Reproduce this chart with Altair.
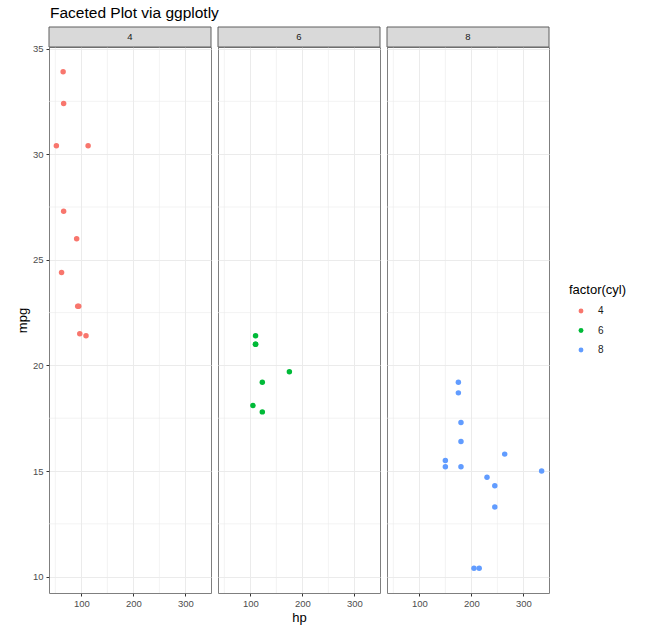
import altair as alt
import pandas as pd

# mtcars: hp, mpg, cyl
hp = [110, 110, 93, 110, 175, 105, 245, 62, 95, 123, 123, 180, 180, 180, 205, 215,
      230, 66, 52, 65, 97, 150, 150, 245, 175, 66, 91, 113, 264, 175, 335, 109]
mpg = [21.0, 21.0, 22.8, 21.4, 18.7, 18.1, 14.3, 24.4, 22.8, 19.2, 17.8, 16.4, 17.3,
       15.2, 10.4, 10.4, 14.7, 32.4, 30.4, 33.9, 21.5, 15.5, 15.2, 13.3, 19.2, 27.3,
       26.0, 30.4, 15.8, 19.7, 15.0, 21.4]
cyl = [6, 6, 4, 6, 8, 6, 8, 4, 4, 6, 6, 8, 8, 8, 8, 8, 8, 4, 4, 4, 4, 8, 8, 8, 8, 4,
       4, 4, 8, 6, 8, 4]

cyl_levels = ["4", "6", "8"]
cyl_colors = ["#F8766D", "#00BA38", "#619CFF"]
x_ticks = [100, 200, 300]
x_minor = [50, 150, 250]
y_ticks = [10, 15, 20, 25, 30, 35]
y_minor = [12.5, 17.5, 22.5, 27.5, 32.5]
x_domain = [37.85, 349.15]
y_domain = [9.225, 35.075]

df = pd.DataFrame({"hp": hp, "mpg": mpg, "cyl": [str(c) for c in cyl]})

W, H = 162, 546
FONT = "Liberation Sans"
xs = alt.Scale(domain=x_domain, nice=False, zero=False)
ys = alt.Scale(domain=y_domain, nice=False, zero=False)


def panel(level, first, mid):
    xaxis = alt.Axis(values=x_ticks, title="hp" if mid else None, grid=True,
                     gridColor="#ebebeb", gridWidth=1, domain=False,
                     tickColor="#333333", tickSize=3, labelPadding=2,
                     labelColor="#4d4d4d", labelFontSize=9.5, labelFont=FONT,
                     titleFont=FONT, titleFontSize=13, titleFontWeight="normal",
                     titleColor="#000000", titlePadding=4)
    if first:
        yaxis = alt.Axis(values=y_ticks, title="mpg", grid=True, gridColor="#ebebeb",
                         gridWidth=1, domain=False, tickColor="#333333", tickSize=3,
                         labelPadding=3, labelColor="#4d4d4d", labelFontSize=9.5,
                         labelFont=FONT, titleFont=FONT, titleFontSize=13,
                         titleFontWeight="normal", titleColor="#000000", titlePadding=3)
    else:
        yaxis = alt.Axis(values=y_ticks, title=None, grid=True, gridColor="#ebebeb",
                         gridWidth=1, domain=False, ticks=False, labels=False)

    vminor = alt.Chart(pd.DataFrame({"hp": x_minor})).mark_rule(
        color="#ebebeb", strokeWidth=0.6).encode(x=alt.X("hp:Q", scale=xs, axis=xaxis))
    hminor = alt.Chart(pd.DataFrame({"mpg": y_minor})).mark_rule(
        color="#ebebeb", strokeWidth=0.6).encode(y=alt.Y("mpg:Q", scale=ys, axis=yaxis))
    pts = alt.Chart(df).transform_filter(alt.datum.cyl == level).mark_circle(
        size=30, opacity=1).encode(
        x=alt.X("hp:Q", scale=xs, axis=xaxis),
        y=alt.Y("mpg:Q", scale=ys, axis=yaxis),
        color=alt.Color("cyl:N", scale=alt.Scale(domain=cyl_levels, range=cyl_colors),
                        legend=alt.Legend(title="factor(cyl)")),
    )
    strip_data = pd.DataFrame({"lab": [level]})
    strip = alt.Chart(strip_data).mark_rect(
        fill="#d9d9d9", stroke="#5e5e5e", strokeWidth=1).encode(
        x=alt.value(0), x2=alt.value(W), y=alt.value(-20), y2=alt.value(0))
    strip_txt = alt.Chart(strip_data).mark_text(
        fontSize=9.5, font=FONT, color="#1a1a1a", baseline="middle").encode(
        text="lab:N", x=alt.value(W / 2), y=alt.value(-10))
    return alt.layer(vminor, hminor, pts, strip, strip_txt).properties(width=W, height=H)


chart = alt.hconcat(
    panel("4", True, False), panel("6", False, True), panel("8", False, False),
    spacing=5,
).properties(
    title=alt.TitleParams("Faceted Plot via ggplotly", anchor="start", frame="group",
                          font=FONT, fontSize=15.5, fontWeight="normal", color="#000000",
                          offset=5, dx=1),
    padding={"left": 15, "top": 5, "right": 5, "bottom": 5},
    background="white",
).configure_view(
    stroke="#7f7f7f", strokeWidth=1
).configure_legend(
    orient="none", legendX=520, legendY=237, titleFont=FONT, titleFontSize=13,
    titleFontWeight="normal", titleColor="#000000", labelFont=FONT, labelFontSize=10,
    labelColor="#1a1a1a", symbolType="circle", symbolSize=24, rowPadding=9.5,
    titlePadding=9, symbolStrokeWidth=0, symbolOffset=7, labelOffset=12,
)

chart.save("out.html", embed_options={"renderer": "svg", "actions": False})
